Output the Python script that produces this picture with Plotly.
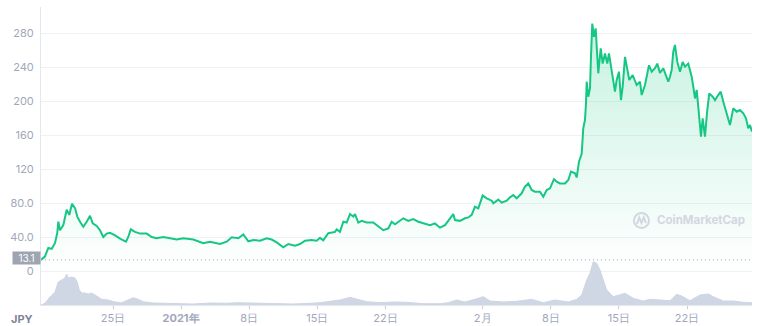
import plotly.graph_objects as go
import pandas as pd

# ---------------- data ----------------
price_times = [
    "2020-12-17 14:24", "2020-12-18 00:00", "2020-12-18 08:24", "2020-12-18 16:48", "2020-12-19 01:00",
    "2020-12-19 06:36", "2020-12-19 09:06", "2020-12-19 13:18", "2020-12-19 21:24", "2020-12-20 05:48",
    "2020-12-20 12:12", "2020-12-20 18:54", "2020-12-21 02:18", "2020-12-21 07:54", "2020-12-21 14:36",
    "2020-12-21 22:42", "2020-12-22 07:06", "2020-12-22 15:18", "2020-12-22 21:54", "2020-12-23 07:48",
    "2020-12-23 15:54", "2020-12-24 00:06", "2020-12-24 08:30", "2020-12-24 16:36", "2020-12-25 05:00",
    "2020-12-25 17:18", "2020-12-26 08:06", "2020-12-26 13:42", "2020-12-26 19:42", "2020-12-27 06:18",
    "2020-12-27 18:36", "2020-12-28 11:06", "2020-12-28 23:30", "2020-12-29 11:48", "2020-12-30 04:06",
    "2020-12-30 20:36", "2020-12-31 13:06", "2021-01-01 05:24", "2021-01-01 21:54", "2021-01-02 06:06",
    "2021-01-03 06:42", "2021-01-03 23:18", "2021-01-04 23:54", "2021-01-05 16:30", "2021-01-06 04:48",
    "2021-01-06 21:06", "2021-01-07 09:24", "2021-01-07 21:42", "2021-01-08 10:06", "2021-01-09 02:36",
    "2021-01-09 19:06", "2021-01-10 07:24", "2021-01-10 19:48", "2021-01-11 12:06", "2021-01-12 00:24",
    "2021-01-12 16:54", "2021-01-13 05:18", "2021-01-13 17:36", "2021-01-14 10:06", "2021-01-14 22:24",
    "2021-01-15 06:36", "2021-01-15 14:42", "2021-01-16 03:06", "2021-01-16 19:36", "2021-01-16 23:48",
    "2021-01-17 07:54", "2021-01-17 16:06", "2021-01-18 00:24", "2021-01-18 08:36", "2021-01-18 16:42",
    "2021-01-18 20:54", "2021-01-19 05:06", "2021-01-19 13:24", "2021-01-20 01:48", "2021-01-20 18:06",
    "2021-01-21 06:24", "2021-01-21 18:42", "2021-01-22 07:06", "2021-01-22 15:24", "2021-01-22 23:36",
    "2021-01-23 07:42", "2021-01-23 20:06", "2021-01-24 08:24", "2021-01-24 20:42", "2021-01-25 09:06",
    "2021-01-26 01:36", "2021-01-26 13:54", "2021-01-27 02:12", "2021-01-27 14:36", "2021-01-28 02:54",
    "2021-01-28 11:06", "2021-01-28 23:24", "2021-01-29 03:36", "2021-01-29 15:54", "2021-01-30 04:12",
    "2021-01-30 12:24", "2021-01-30 20:48", "2021-01-31 04:54", "2021-01-31 13:06", "2021-01-31 23:54",
    "2021-02-01 09:48", "2021-02-01 22:06", "2021-02-02 02:06", "2021-02-02 14:24", "2021-02-02 22:48",
    "2021-02-03 11:06", "2021-02-03 19:12", "2021-02-04 03:24", "2021-02-04 11:48", "2021-02-05 00:06",
    "2021-02-05 08:12", "2021-02-05 16:24", "2021-02-06 00:48", "2021-02-06 08:54", "2021-02-06 21:12",
    "2021-02-07 05:24", "2021-02-07 13:48", "2021-02-07 21:54", "2021-02-08 07:48", "2021-02-08 14:24",
    "2021-02-08 22:36", "2021-02-09 10:54", "2021-02-09 19:06", "2021-02-10 01:42", "2021-02-10 11:36",
    "2021-02-10 15:48", "2021-02-10 21:24", "2021-02-11 04:06", "2021-02-11 08:00", "2021-02-11 12:12",
    "2021-02-11 14:42", "2021-02-11 16:24", "2021-02-11 20:24", "2021-02-12 00:36", "2021-02-12 03:00",
    "2021-02-12 06:12", "2021-02-12 10:24", "2021-02-12 14:36", "2021-02-12 18:36", "2021-02-12 21:00",
    "2021-02-13 03:00", "2021-02-13 07:54", "2021-02-13 13:36", "2021-02-13 19:12", "2021-02-13 23:24",
    "2021-02-14 03:36", "2021-02-14 08:36", "2021-02-14 14:12", "2021-02-14 18:24", "2021-02-15 00:06",
    "2021-02-15 05:00", "2021-02-15 09:12", "2021-02-15 14:54", "2021-02-15 19:06", "2021-02-16 01:30",
    "2021-02-16 09:54", "2021-02-16 19:42", "2021-02-17 03:54", "2021-02-17 08:06", "2021-02-17 16:12",
    "2021-02-18 02:06", "2021-02-18 08:48", "2021-02-18 16:54", "2021-02-18 22:36", "2021-02-19 05:12",
    "2021-02-19 13:24", "2021-02-19 21:48", "2021-02-20 01:42", "2021-02-20 05:54", "2021-02-20 10:06",
    "2021-02-20 14:00", "2021-02-20 18:12", "2021-02-20 23:54", "2021-02-21 06:36", "2021-02-21 13:12",
    "2021-02-21 18:54", "2021-02-22 03:00", "2021-02-22 11:24", "2021-02-22 15:24", "2021-02-22 19:36",
    "2021-02-22 23:48", "2021-02-23 06:12", "2021-02-23 10:24", "2021-02-23 14:30", "2021-02-23 20:12",
    "2021-02-24 01:54", "2021-02-24 06:48", "2021-02-24 15:12", "2021-02-24 20:54", "2021-02-25 05:00",
    "2021-02-25 11:00", "2021-02-25 17:24", "2021-02-26 01:48", "2021-02-26 09:54", "2021-02-26 18:00",
    "2021-02-27 02:24", "2021-02-27 10:36", "2021-02-27 18:42", "2021-02-28 01:24", "2021-02-28 07:00",
    "2021-02-28 11:12", "2021-02-28 16:12",
]
price_values = [
    13.1, 17, 27, 26, 33,
    45, 58, 48, 54, 72,
    66, 79, 74, 64, 58,
    52, 58, 65, 56, 53,
    48, 40, 44, 45, 42,
    38, 34.5, 40, 49, 46,
    44, 44, 40, 38.5, 40,
    38.5, 37, 38.5, 38, 37,
    32.6, 34.5, 31.8, 34.5, 39.6,
    38.5, 43, 35, 36.5, 35.6,
    38.5, 37, 33.7, 27.8, 31.8,
    29.8, 31.8, 35.6, 36.5, 35.6,
    39, 36, 44.5, 46, 49,
    46, 58, 57, 67, 64,
    67, 57, 59, 57, 57,
    52, 48, 50, 58, 55,
    58, 62, 59, 61, 58,
    56, 54, 56, 51, 54,
    59, 67, 60, 59, 62,
    63, 66, 75.6, 73.7, 89,
    85.5, 82.7, 79.6, 84, 80.4,
    82.7, 86.7, 89.4, 85.5, 91.4,
    99.2, 103, 95.3, 93.3, 93.3,
    87.4, 95.3, 97.3, 108, 105,
    103, 103, 107, 117, 115,
    110, 128.6, 138, 168, 177.6,
    197, 222.7, 205, 215, 252,
    291, 275.6, 285.5, 252, 232.6,
    262, 244, 256, 244, 256,
    242, 230.6, 211, 224.7, 234.5,
    201, 216.8, 252, 242, 224.7,
    230.6, 218.8, 222.7, 207, 218.8,
    242, 234.5, 238.5, 244, 233,
    238.5, 226.7, 222.7, 228.6, 236.5,
    258, 266, 246, 234.5, 246,
    240.4, 244, 228.6, 216.8, 203,
    213, 179.6, 158, 179.6, 158,
    189.4, 209, 205, 201, 207,
    211, 199, 185.5, 171.8, 191.4,
    187.4, 189.4, 185.5, 179.6, 167.8,
    171.8, 164,
]

volume_times = [
    "2020-12-17 14:24", "2020-12-18 00:00", "2020-12-18 12:36", "2020-12-19 01:00", "2020-12-19 09:00",
    "2020-12-19 17:30", "2020-12-20 01:36", "2020-12-20 05:48", "2020-12-20 09:42", "2020-12-20 18:06",
    "2020-12-21 02:18", "2020-12-21 07:54", "2020-12-21 12:54", "2020-12-21 18:48", "2020-12-22 02:54",
    "2020-12-22 11:06", "2020-12-22 19:30", "2020-12-23 07:48", "2020-12-23 20:06", "2020-12-24 12:24",
    "2020-12-25 05:00", "2020-12-25 21:30", "2020-12-26 13:42", "2020-12-27 02:06", "2020-12-27 14:24",
    "2020-12-28 02:42", "2020-12-29 03:24", "2020-12-30 12:30", "2020-12-31 21:18", "2021-01-02 06:06",
    "2021-01-03 23:18", "2021-01-05 16:30", "2021-01-06 17:06", "2021-01-08 10:06", "2021-01-10 11:24",
    "2021-01-12 12:42", "2021-01-14 05:54", "2021-01-15 06:36", "2021-01-16 07:18", "2021-01-17 07:54",
    "2021-01-18 08:36", "2021-01-19 01:06", "2021-01-20 01:48", "2021-01-21 10:36", "2021-01-22 19:24",
    "2021-01-24 04:24", "2021-01-25 21:24", "2021-01-27 14:36", "2021-01-28 11:06", "2021-01-29 07:48",
    "2021-01-30 04:12", "2021-01-31 04:54", "2021-02-01 01:24", "2021-02-01 17:54", "2021-02-03 02:42",
    "2021-02-04 11:48", "2021-02-06 00:48", "2021-02-07 05:24", "2021-02-08 10:12", "2021-02-09 19:06",
    "2021-02-10 15:48", "2021-02-11 04:06", "2021-02-11 16:24", "2021-02-12 00:36", "2021-02-12 08:42",
    "2021-02-12 17:06", "2021-02-13 01:12", "2021-02-13 09:24", "2021-02-13 17:48", "2021-02-14 10:06",
    "2021-02-15 14:54", "2021-02-16 11:24", "2021-02-17 12:06", "2021-02-18 04:36", "2021-02-19 13:24",
    "2021-02-20 05:54", "2021-02-20 22:24", "2021-02-21 10:48", "2021-02-22 07:12", "2021-02-23 07:54",
    "2021-02-24 04:24", "2021-02-24 16:42", "2021-02-25 17:24", "2021-02-26 18:00", "2021-02-27 18:42",
    "2021-02-28 16:12",
]
volume_values = [
    0, 1.7, 8, 13, 23,
    25, 27, 31, 27, 28,
    27, 23, 15, 12, 12,
    11, 12, 9, 5.7, 5,
    3, 2.3, 5, 7.3, 5.7,
    3.3, 2, 1.7, 1.3, 1,
    2, 1.7, 2.3, 1.7, 1.3,
    1, 1.7, 2.3, 3.7, 5,
    7.7, 5.7, 3.3, 2.3, 3,
    2.7, 1.3, 1.3, 2.3, 5,
    3, 5.7, 8.3, 4, 3,
    3.7, 5.7, 2.3, 5, 3,
    5.7, 10, 25, 31.7, 43.3,
    41.7, 35, 25, 15, 8.3,
    11.7, 6.7, 4, 5.7, 4.3,
    4.3, 10.7, 9, 4.3, 10,
    11, 8.3, 4, 4, 2.7,
    2.3,
]

tick_dates = ["2020-12-25", "2021-01-01", "2021-01-08", "2021-01-15", "2021-01-22",
              "2021-02-01", "2021-02-08", "2021-02-15", "2021-02-22"]
tick_labels = ["25日", "<b>2021年</b>", "8日", "15日", "22日", "2月", "8日", "15日", "22日"]

y_tick_vals = [0, 40, 80, 120, 160, 200, 240, 280]
y_tick_text = ["0", "40.0", "80.0", "120", "160", "200", "240", "280"]

open_price = 13.1
currency = "JPY"

# ---------------- figure ----------------
W, H = 758, 326
ML, MR, MT, MB = 41, 6, 7, 21
PW, PH = W - ML - MR, H - MT - MB

GREEN = "#16c784"
GREY_TXT = "#a1a7bb"

fig = go.Figure()

fig.add_trace(go.Scatter(
    x=pd.to_datetime(price_times), y=price_values,
    mode="lines", line=dict(color=GREEN, width=2),
    fill="tozeroy",
    fillgradient=dict(type="vertical",
                      colorscale=[[0, "rgba(22,199,132,0.0)"], [1, "rgba(22,199,132,0.24)"]]),
    yaxis="y", hoverinfo="skip", showlegend=False,
))

fig.add_trace(go.Scatter(
    x=pd.to_datetime(volume_times), y=volume_values,
    mode="lines", line=dict(color="#cfd6e4", width=1),
    fill="tozeroy", fillcolor="#cfd6e4",
    yaxis="y2", hoverinfo="skip", showlegend=False,
))

x_start = pd.Timestamp(price_times[0])
x_end = pd.Timestamp(price_times[-1])

fig.update_layout(
    width=W, height=H,
    margin=dict(l=ML, r=MR, t=MT, b=MB, pad=0, autoexpand=False),
    paper_bgcolor="white", plot_bgcolor="white",
    font=dict(family="Inter, Lato, sans-serif", size=11, color=GREY_TXT),
    xaxis=dict(
        type="date", range=[x_start, x_end], automargin=False,
        tickvals=pd.to_datetime(tick_dates), ticktext=tick_labels,
        showgrid=False, zeroline=False,
        showline=True, linecolor="#e4e7ee", linewidth=1,
        ticks="outside", ticklen=3, tickcolor="#c9cdd6",
        tickfont=dict(size=11, color=GREY_TXT),
    ),
    yaxis=dict(
        range=[-40, 310.6], automargin=False,
        tickvals=y_tick_vals, ticktext=y_tick_text,
        showgrid=True, gridcolor="#eff2f5", gridwidth=1,
        zeroline=False,
        showline=True, linecolor="#e4e7ee", linewidth=1,
        ticks="outside", ticklen=4, tickcolor="rgba(0,0,0,0)",
        tickfont=dict(size=11, color=GREY_TXT),
    ),
    yaxis2=dict(
        overlaying="y", range=[0, PH], automargin=False,
        showgrid=False, zeroline=False, showticklabels=False, showline=False,
    ),
)

# open-price dotted line and tag
fig.add_shape(type="line", xref="paper", yref="y", x0=0, x1=1, y0=open_price, y1=open_price,
              line=dict(color="#a0a5b2", width=1, dash="1px,3px"))
fig.add_annotation(xref="paper", yref="y", x=0, y=open_price, xanchor="right", yanchor="middle",
                   yshift=1.5, text=f"{open_price}", showarrow=False, bgcolor="#9fa4b1",
                   font=dict(size=10, color="white", family="Inter, sans-serif"),
                   width=25, height=10, borderpad=1)

# currency label
fig.add_annotation(xref="paper", yref="paper", x=0, y=0, xanchor="right", yanchor="top",
                   xshift=-6, yshift=-5, text="<b>" + currency + "</b>", showarrow=False,
                   font=dict(size=11, color="#7d8394"))

# watermark
def px_x(v):
    return (v - ML) / PW

def px_y(v):
    return (MT + PH - v) / PH

WM = "#d3d7e1"
fig.add_shape(type="circle", xref="paper", yref="paper",
              x0=px_x(634), x1=px_x(649), y0=px_y(228), y1=px_y(213),
              line=dict(color=WM, width=2))
fig.add_shape(type="path", xref="paper", yref="paper",
              path=(f"M {px_x(637)} {px_y(224)} L {px_x(639.3)} {px_y(217.5)} L {px_x(641.5)} {px_y(223)} "
                    f"L {px_x(643.7)} {px_y(217.5)} L {px_x(646)} {px_y(223)}"),
              line=dict(color=WM, width=2))
fig.add_annotation(xref="paper", yref="paper", x=px_x(655), y=px_y(220.5), xanchor="left",
                   yanchor="middle", text="<b>CoinMarketCap</b>", showarrow=False,
                   font=dict(size=11.5, color=WM, family="Inter, sans-serif"))

fig.write_html("out.html")
